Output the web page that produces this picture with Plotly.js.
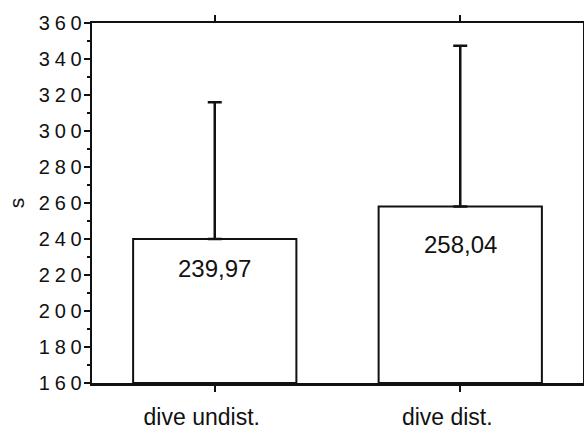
<!DOCTYPE html>
<html>
<head>
<meta charset="utf-8">
<script src="https://cdn.plot.ly/plotly-3.0.1.min.js"></script>
<style>
  html, body { margin: 0; padding: 0; background: #fff; }
  #chart { width: 584px; height: 430px; }
  .ytick text { letter-spacing: 4.8px; }
</style>
</head>
<body>
<div id="chart"></div>
<script>
// Data
const categories = ["dive undist.", "dive dist."];
const means = [239.97, 258.04];
const upperError = [76.0, 89.3];
const valueLabels = ["239,97", "258,04"];
const yTickValues = [160, 180, 200, 220, 240, 260, 280, 300, 320, 340, 360];

const ink = "#111111";
const font = "Arial, 'Liberation Sans', Helvetica, sans-serif";
const labelShifts = [-29, -38];

const trace = {
  type: "bar",
  x: categories,
  y: means.map(v => v - 160),
  base: 160,
  width: 0.665,
  marker: { color: "#ffffff", line: { color: ink, width: 2 } },
  error_y: {
    type: "data",
    symmetric: false,
    array: upperError,
    arrayminus: upperError.map(() => 0),
    color: ink,
    thickness: 2.5,
    width: 7
  },
  hoverinfo: "skip"
};

const annotations = categories.map((c, i) => ({
  x: c,
  y: means[i],
  xref: "x",
  yref: "y",
  text: valueLabels[i],
  showarrow: false,
  yanchor: "middle",
  yshift: labelShifts[i],
  font: { family: font, size: 24, color: ink }
}));

const layout = {
  width: 584,
  height: 430,
  margin: { l: 92, r: 1, t: 23, b: 47 },
  paper_bgcolor: "#ffffff",
  plot_bgcolor: "#ffffff",
  showlegend: false,
  xaxis: {
    type: "category",
    range: [-0.5, 1.5],
    showline: true,
    linecolor: ink,
    linewidth: 2.5,
    mirror: "ticks",
    ticks: "outside",
    ticklen: 6,
    tickwidth: 2,
    tickcolor: ink,
    showgrid: false,
    zeroline: false,
    ticklabelshift: -13,
    ticklabelstandoff: 6,
    tickfont: { family: font, size: 23, color: ink }
  },
  yaxis: {
    range: [160, 360],
    tickvals: yTickValues,
    showline: true,
    linecolor: ink,
    linewidth: 2.5,
    mirror: true,
    ticks: "outside",
    ticklen: 6,
    tickwidth: 2,
    tickcolor: ink,
    showgrid: false,
    zeroline: false,
    ticklabelstandoff: -7,
    tickfont: { family: font, size: 20, color: ink },
    minor: { dtick: 10, tick0: 160, ticks: "outside", ticklen: 3, tickwidth: 2, tickcolor: ink, showgrid: false },
    title: { text: "s", standoff: 9, font: { family: font, size: 21, color: ink } }
  },
  annotations: annotations
};

Plotly.newPlot("chart", [trace], layout, { displayModeBar: false, staticPlot: true });
</script>
</body>
</html>
